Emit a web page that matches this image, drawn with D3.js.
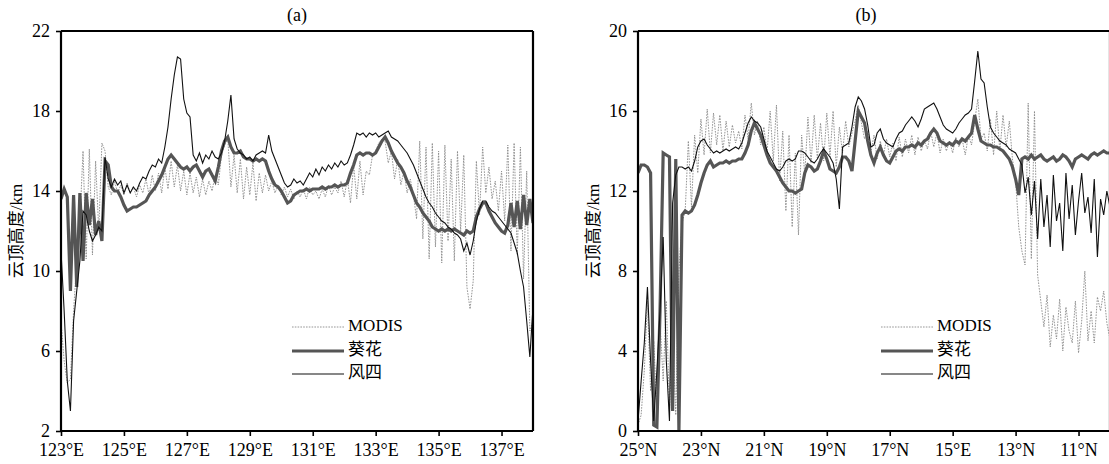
<!DOCTYPE html>
<html>
<head>
<meta charset="utf-8">
<script src="https://cdn.jsdelivr.net/npm/d3@7"></script>
<style>
  body { margin: 0; background: #fff; }
  svg { font-family: "Liberation Serif", "Times New Roman", "Noto Sans CJK SC", serif; }
</style>
</head>
<body>
<div id="chart"></div>
<script>
//  ---------------  DATA   ---------------
// panel (a): longitude 123E..138E every 0.1 deg
const lonStart = 123, lonStep = 0.1;
const lonTicks = [123, 125, 127, 129, 131, 133, 135, 137];
const lonTickLabels = ["123°E", "125°E", "127°E", "129°E", "131°E", "133°E", "135°E", "137°E"];
const heightTicksA = [2, 6, 10, 14, 18, 22];

const modisA = [7.5, 5.5, 4.4, 4.6, 8.0, 10.5, 12.5, 16.0, 10.6, 16.1,
  10.8, 15.5, 12.0, 16.4, 16.0, 14.2, 13.8, 14.5, 13.9, 14.3,
  13.8, 14.4, 13.9, 14.2, 13.7, 14.3, 13.9, 14.6, 13.8, 14.8,
  14.0, 14.9, 13.9, 15.2, 14.1, 15.5, 14.2, 15.3, 14.0, 15.0,
  13.8, 14.9, 13.9, 14.7, 13.7, 14.6, 13.8, 14.5, 14.0, 14.8,
  14.3, 15.8, 16.3, 16.6, 14.2, 15.8, 13.9, 15.6, 13.6, 15.2,
  13.8, 15.4, 13.5, 14.9, 13.9, 14.8, 14.0, 14.5, 13.9, 14.3,
  13.8, 14.2, 13.7, 14.1, 13.6, 14.0, 13.7, 14.1, 13.6, 14.2,
  13.8, 14.0, 13.6, 14.1, 13.7, 14.3, 13.8, 14.2, 13.9, 14.5,
  13.7, 14.6, 13.4, 15.3, 13.6, 15.5, 13.8, 15.0, 14.8, 15.8,
  16.0, 16.4, 16.6, 16.5, 15.4, 16.0, 14.6, 15.6, 14.3, 15.0,
  13.9, 14.6, 13.8, 12.6, 16.5, 11.6, 16.2, 10.6, 16.4, 11.2,
  16.0, 10.4, 16.3, 11.5, 15.6, 10.5, 16.0, 12.0, 15.8, 9.2,
  8.1, 9.5, 15.5, 12.8, 16.2, 13.9, 15.2, 13.6, 14.5, 13.0,
  15.0, 12.5, 16.3, 11.0, 16.4, 10.8, 16.2, 9.6, 15.0, 7.0,
  7.5];

const himawariA = [13.6, 14.1, 13.7, 9.0, 13.8, 9.2, 13.9, 10.5, 13.9, 12.3,
  13.6, 11.8, 12.5, 11.5, 15.5, 15.3, 14.2, 14.0, 14.0, 13.7,
  13.3, 13.0, 13.1, 13.2, 13.2, 13.3, 13.4, 13.5, 13.8, 14.0,
  14.2, 14.5, 14.8, 15.2, 15.6, 15.8, 15.6, 15.4, 15.2, 15.1,
  15.2, 15.0, 15.2, 15.3, 15.0, 14.7, 15.0, 15.1, 14.8, 14.5,
  15.2, 16.0, 16.5, 16.7, 16.2, 15.9, 15.9, 16.0, 15.7, 15.6,
  15.6, 15.5, 15.6, 15.5, 15.6, 15.5, 15.0, 14.6, 14.3, 14.2,
  14.0, 13.7, 13.4, 13.5, 13.8, 13.9, 14.0, 14.0, 14.1, 14.0,
  14.1, 14.1, 14.1, 14.2, 14.1, 14.2, 14.2, 14.3, 14.2, 14.3,
  14.3, 14.4, 14.9, 15.3, 15.8, 15.9, 15.8, 15.9, 15.9, 15.8,
  15.9, 16.2, 16.5, 16.7, 16.4, 16.0, 15.7, 15.4, 15.2, 14.9,
  14.5, 14.2, 13.8, 13.4, 13.2, 12.9, 12.7, 12.5, 12.2, 12.1,
  12.0, 12.1, 12.0, 12.1, 12.0, 12.1, 12.0, 11.9, 11.8, 12.0,
  11.9, 12.0, 12.7, 13.1, 13.4, 13.4, 13.0, 12.7, 12.4, 12.2,
  12.0, 11.9, 12.3, 13.4, 12.2, 13.5, 12.1, 13.8, 12.3, 13.6,
  12.4];

const fy4A = [11.0, 8.0, 4.5, 3.0, 7.5, 9.0, 10.5, 13.0, 12.8, 12.0,
  11.5, 11.8, 12.2, 12.0, 15.7, 14.6, 14.2, 14.6, 14.3, 14.5,
  13.9, 14.3, 13.9, 14.2, 14.0, 14.4, 14.7, 14.6, 15.0, 15.3,
  15.2, 15.6, 15.4, 16.2, 17.2, 18.6, 19.8, 20.7, 20.6, 18.6,
  17.9, 17.7, 15.8, 15.5, 15.9, 15.4, 15.8, 15.6, 16.0, 15.7,
  15.6, 15.9, 16.5, 17.5, 18.8, 16.6, 16.1, 15.9, 15.8, 15.6,
  15.7, 15.5, 15.8, 15.9, 16.0, 15.9, 16.8, 16.0, 15.6, 15.2,
  14.8, 14.4, 14.2, 14.3, 14.6, 14.4, 14.5, 14.3, 14.6, 14.9,
  14.7, 15.1, 14.8, 15.2, 15.0, 15.3, 15.1, 15.4, 15.2, 15.5,
  15.3, 15.4, 15.8, 16.3, 16.9, 16.8, 16.9, 16.7, 16.9, 16.8,
  16.9, 16.7, 16.8, 16.9, 17.0, 16.7, 16.6, 16.5, 16.3, 16.1,
  15.9, 15.6, 15.3, 14.9, 14.5, 14.1, 13.7, 13.4, 13.2, 12.9,
  12.7, 12.5, 12.4, 12.2, 12.1, 11.9, 11.8, 11.6, 11.0, 11.4,
  10.8, 11.5, 12.5, 13.1, 13.5, 13.5, 13.2, 13.0, 12.9, 12.7,
  12.5, 12.3, 12.1, 11.9, 11.4, 10.9, 10.0, 9.2, 7.5, 5.7,
  8.2];

// panel (b): latitude 25N..10N every 0.1 deg
const latStart = 25, latStep = -0.1;
const latTicks = [25, 23, 21, 19, 17, 15, 13, 11];
const latTickLabels = ["25°N", "23°N", "21°N", "19°N", "17°N", "15°E", "13°N", "11°N"];
const heightTicksB = [0, 4, 8, 12, 16, 20];

const modisB = [0.3, 0.8, 3.0, 6.5, 2.0, 4.5, 1.0, 5.5, 2.5, 6.5,
  1.0, 5.0, 0.8, 8.0, 10.4, 11.0, 14.5, 11.2, 14.8, 12.9,
  15.6, 13.8, 16.1, 13.9, 15.9, 14.3, 15.8, 14.0, 15.5, 14.2,
  15.3, 14.4, 15.0, 14.1, 15.8, 14.6, 16.4, 14.8, 15.5, 14.3,
  15.2, 13.9, 16.0, 13.5, 16.3, 12.5, 15.0, 11.0, 14.8, 10.2,
  13.9, 9.8, 14.8, 12.8, 15.7, 13.4, 15.8, 13.6, 15.4, 13.5,
  15.9, 13.7, 16.0, 13.2, 15.2, 13.9, 15.5, 14.2, 14.9, 15.5,
  16.3, 15.4, 14.6, 15.0, 13.9, 14.8, 13.6, 14.5, 13.8, 14.6,
  13.7, 14.4, 13.5, 14.7, 13.7, 14.6, 13.9, 14.8, 13.8, 14.7,
  14.0, 14.5, 14.1, 15.0, 14.2, 14.9, 13.9, 14.6, 14.0, 14.5,
  13.9, 14.7, 14.2, 14.6, 13.8, 14.8, 14.3, 15.5, 16.6, 14.6,
  14.9, 14.0, 15.6, 13.8, 16.0, 14.0, 15.8, 14.2, 15.5, 13.6,
  12.5, 10.2, 9.0, 8.3, 16.4, 8.6, 16.0, 7.8, 6.5, 5.2,
  6.8, 4.2, 5.8, 4.6, 6.6, 4.0, 6.2, 5.0, 4.4, 6.5,
  3.9, 5.5, 8.0, 4.5, 6.0, 4.4, 6.7, 6.0, 7.0, 5.4,
  4.6];

const himawariB = [12.9, 13.3, 13.3, 13.2, 12.9, 0.3, 0.2, 6.0, 13.9, 13.8,
  13.7, 1.0, 13.6, 0.0, 10.8, 11.0, 10.9, 11.0, 11.3, 11.8,
  12.4, 12.9, 13.3, 13.5, 13.2, 13.3, 13.4, 13.4, 13.5, 13.4,
  13.5, 13.5, 13.6, 13.6, 13.9, 14.3, 15.0, 15.4, 15.1, 14.8,
  14.3, 13.8, 13.4, 13.2, 13.0, 12.7, 12.4, 12.2, 12.0, 12.0,
  11.9, 12.0, 12.1, 12.9, 13.3, 13.2, 13.0, 13.1, 13.5, 14.0,
  13.6, 13.1, 13.0, 12.9, 13.2, 13.7, 13.7, 13.5, 13.0, 14.5,
  16.0, 15.7, 15.4, 14.5, 13.8, 13.4, 13.9, 14.2, 13.8, 13.5,
  13.4, 13.7, 14.0, 14.1, 14.0, 14.2, 14.2, 14.3, 14.2, 14.4,
  14.3, 14.5, 14.6, 14.9, 15.1, 14.9, 14.5, 14.4, 14.3, 14.4,
  14.3, 14.5, 14.4, 14.6, 14.5, 14.7, 14.9, 15.8, 15.1, 14.5,
  14.4, 14.3, 14.3, 14.2, 14.2, 14.1, 14.0, 13.8, 13.6, 13.2,
  12.6, 11.8, 13.6, 13.7, 13.6, 13.8, 13.6, 13.7, 13.8, 13.6,
  13.5, 13.6, 13.7, 13.5, 13.6, 13.8, 13.7, 13.5, 13.2, 13.6,
  13.7, 13.8, 13.7, 13.6, 13.8, 13.9, 13.8, 13.9, 14.0, 13.9,
  13.9];

const fy4B = [0.5, 2.5, 4.4, 7.2, 3.5, 0.5, 3.0, 6.0, 9.7, 3.5,
  0.5, 11.4, 12.8, 13.2, 13.2, 13.1, 13.2, 13.0, 13.5, 14.2,
  14.5, 14.6, 14.3, 14.1, 13.9, 14.0, 13.9, 14.0, 14.1, 14.0,
  14.1, 14.2, 14.1, 14.4, 14.9, 15.4, 15.7, 15.5, 15.4, 15.2,
  14.6, 14.0, 13.7, 13.4, 13.1, 13.0, 13.2, 13.5, 13.6, 13.5,
  13.6, 14.0, 14.0, 13.9, 13.7, 13.5, 13.4, 13.6, 13.9, 14.1,
  13.9, 13.7, 13.4, 12.6, 11.1, 14.2, 14.3, 14.4, 15.2, 16.2,
  16.7, 16.5, 16.1, 15.3, 14.2, 14.3, 14.9, 15.1, 14.6, 14.4,
  14.3, 14.2, 14.6, 14.9, 15.0, 15.3, 15.5, 15.7, 15.5, 15.2,
  15.6, 16.1, 16.2, 16.3, 16.4, 16.1, 15.7, 15.3, 15.1, 15.0,
  14.9, 15.1, 15.4, 15.6, 15.8, 15.9, 16.1, 17.5, 19.0, 17.6,
  17.4, 16.2, 15.2, 14.9, 14.7, 14.5, 14.4, 14.3, 14.1, 14.0,
  13.9, 13.6, 13.3, 11.9, 12.7, 10.8, 12.5, 9.6, 12.6, 10.2,
  11.8, 9.2, 12.8, 10.5, 11.4, 9.0, 12.9, 10.6, 12.3, 9.8,
  11.5, 12.9, 10.9, 11.7, 9.9, 12.6, 8.7, 11.6, 10.8, 12.0,
  11.2];

const seriesNames = ["MODIS", "葵花", "风四"];

//  ---------------  STYLES  ---------------
const styles = [
  { color: "#8a8a8a", width: 0.9, dash: "1.6,1.2" },
  { color: "#555555", width: 3.2, dash: null },
  { color: "#111111", width: 1.1, dash: null }
];

const svgWidth = 1109;
const svgHeight = 464;

const svg = d3
  .select("#chart")
  .append("svg")
  .attr("width", svgWidth)
  .attr("height", svgHeight);

function drawPanel(cfg) {
  const x = d3.scaleLinear().domain(cfg.xDomain).range([cfg.left, cfg.right]);
  const y = d3.scaleLinear().domain(cfg.yDomain).range([431, 31]);

  const g = svg.append("g");

  g.append("clipPath")
    .attr("id", cfg.id + "clip")
    .append("rect")
    .attr("x", cfg.left)
    .attr("y", 31)
    .attr("width", cfg.right - cfg.left)
    .attr("height", 400);

  //  ---------------  LINES  ---------------
  const line = d3.line()
    .x((d, i) => x(cfg.start + i * cfg.step))
    .y(d => y(d));

  cfg.series.forEach((vals, k) => {
    g.append("path")
      .datum(vals)
      .attr("clip-path", "url(#" + cfg.id + "clip)")
      .attr("fill", "none")
      .attr("stroke", styles[k].color)
      .attr("stroke-width", styles[k].width)
      .attr("stroke-dasharray", styles[k].dash)
      .attr("stroke-linejoin", "miter")
      .attr("d", line);
  });

  //  ---------------  AXES  ---------------
  const xAxis = d3.axisBottom(x)
    .tickValues(cfg.xTicks)
    .tickFormat((d, i) => cfg.xLabels[i])
    .tickSize(5)
    .tickPadding(7);
  const gx = g.append("g").attr("transform", "translate(0,431)").call(xAxis);

  const yAxis = d3.axisLeft(y)
    .tickValues(cfg.yTicks)
    .tickSize(5)
    .tickPadding(6);
  const gy = g.append("g").attr("transform", "translate(" + cfg.left + ",0)").call(yAxis);

  [gx, gy].forEach(ax => {
    ax.select(".domain").attr("stroke", "#000").attr("stroke-width", 2.2);
    ax.selectAll(".tick line").attr("stroke", "#000").attr("stroke-width", 1.6);
    ax.selectAll(".tick text")
      .attr("fill", "#000")
      .style("font-size", "18px")
      .style("font-family", "'Liberation Serif', serif");
  });
  gx.select(".domain").attr("d", "M" + cfg.left + ",0H" + cfg.right);
  gy.select(".domain").attr("d", "M0,431V31");
  // "2"/"0" label sits just above the x labels, as in the source figure
  gy.selectAll(".tick text").attr("dy", "0.28em");

  // frame: top and right
  g.append("line")
    .attr("x1", cfg.left).attr("x2", cfg.right)
    .attr("y1", 31).attr("y2", 31)
    .attr("stroke", "#000").attr("stroke-width", 2.2);
  g.append("line")
    .attr("x1", cfg.right).attr("x2", cfg.right)
    .attr("y1", 31).attr("y2", 431)
    .attr("stroke", "#000").attr("stroke-width", 2.2);

  // title
  g.append("text")
    .attr("x", cfg.titleX)
    .attr("y", 21)
    .attr("text-anchor", "middle")
    .style("font-size", "18px")
    .text(cfg.title);

  // y label
  g.append("text")
    .attr("transform", "translate(" + cfg.labelX + ",231) rotate(-90)")
    .attr("text-anchor", "middle")
    .attr("dominant-baseline", "middle")
    .style("font-size", "17px")
    .text("云顶高度/km");

  //  ---------------  LEGEND  ---------------
  const legY = [327, 351, 374];
  seriesNames.forEach((name, k) => {
    g.append("line")
      .attr("x1", cfg.legX).attr("x2", cfg.legX + 52)
      .attr("y1", legY[k]).attr("y2", legY[k])
      .attr("stroke", styles[k].color)
      .attr("stroke-width", styles[k].width)
      .attr("stroke-dasharray", styles[k].dash);
    g.append("text")
      .attr("x", cfg.legX + 56)
      .attr("y", legY[k])
      .attr("dominant-baseline", "middle")
      .style("font-size", "17px")
      .text(name);
  });
}

drawPanel({
  id: "a", title: "(a)", titleX: 297, labelX: 18, legX: 292,
  left: 61, right: 533, xDomain: [123, 138], yDomain: [2, 22],
  start: lonStart, step: lonStep,
  xTicks: lonTicks, xLabels: lonTickLabels, yTicks: heightTicksA,
  series: [modisA, himawariA, fy4A]
});

drawPanel({
  id: "b", title: "(b)", titleX: 866, labelX: 595, legX: 881,
  left: 638, right: 1110, xDomain: [25, 10], yDomain: [0, 20],
  start: latStart, step: latStep,
  xTicks: latTicks, xLabels: latTickLabels, yTicks: heightTicksB,
  series: [modisB, himawariB, fy4B]
});
</script>
</body>
</html>
